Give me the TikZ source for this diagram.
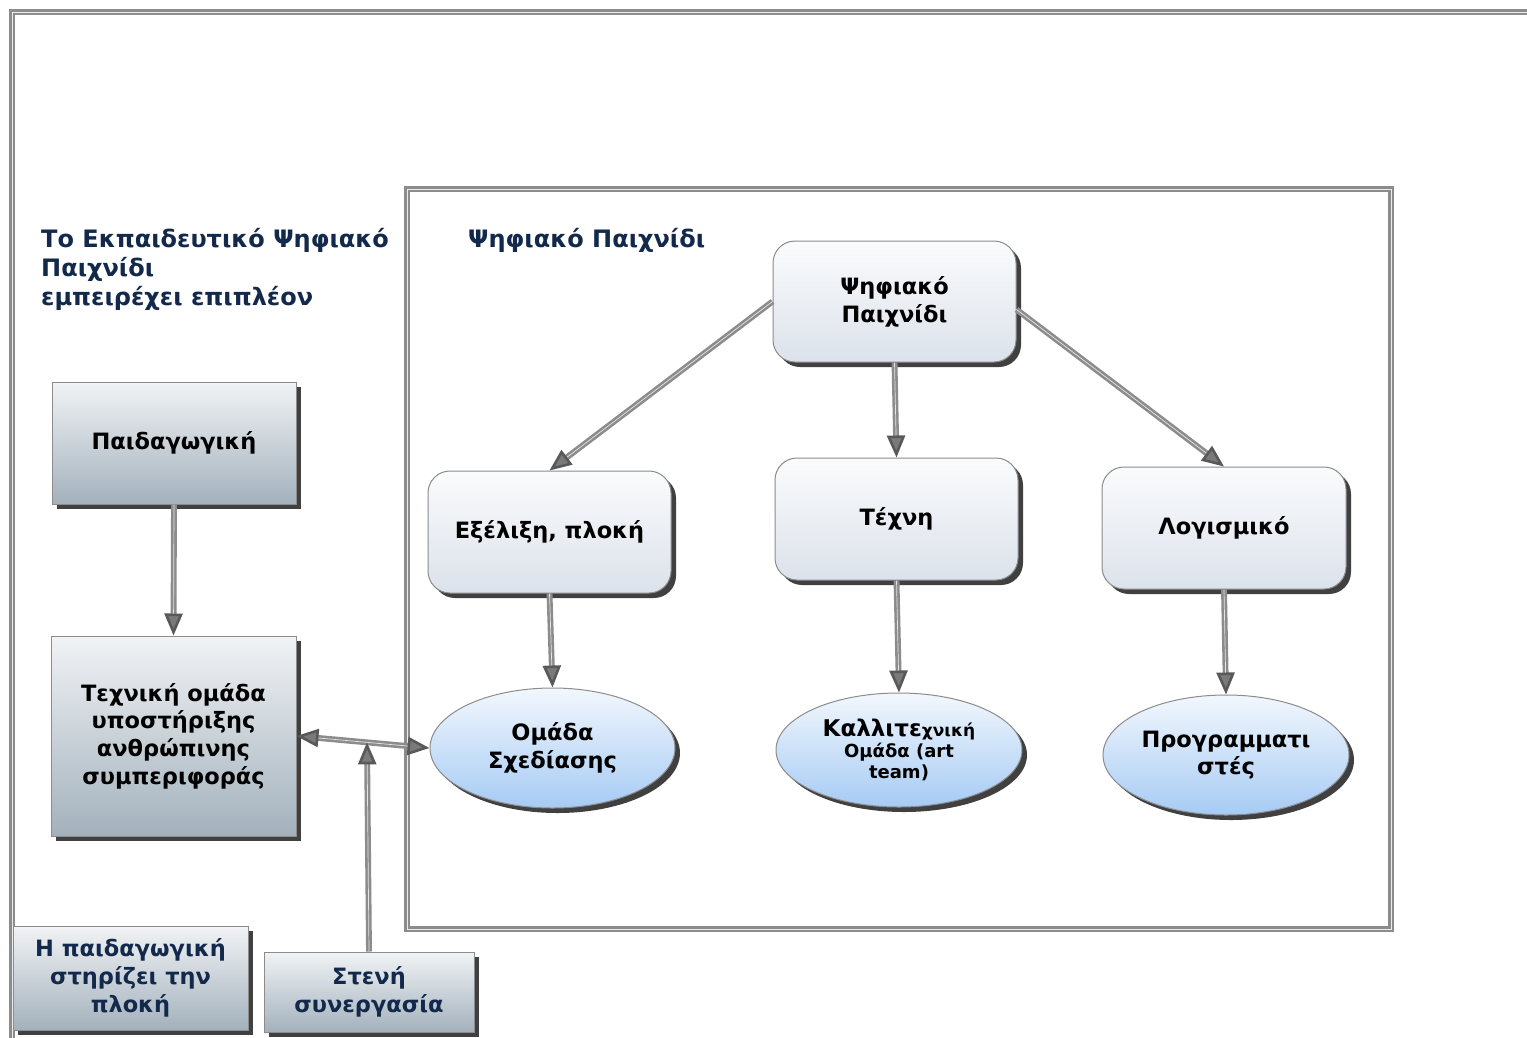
\documentclass[tikz,border=0pt]{standalone}
\usepackage{fontspec}
\setmainfont{DejaVu Sans}
\usetikzlibrary{arrows.meta,shapes.geometric,shadows,calc}
\definecolor{navy}{HTML}{13294B}
\definecolor{frameg}{HTML}{8C8C8C}
\definecolor{boxtop}{HTML}{F1F3F5}
\definecolor{boxbot}{HTML}{A3B1BC}
\definecolor{rtop}{HTML}{FAFBFC}
\definecolor{rbot}{HTML}{DCE2EB}
\definecolor{etop}{HTML}{F2F7FD}
\definecolor{ebot}{HTML}{A6CBF4}
\definecolor{tipg}{HTML}{7A7A7A}
\tikzset{
  lbl/.style={font=\bfseries\fontsize{22.5}{27.7}\selectfont, align=center},
  sqbox/.style={lbl, draw=frameg, line width=1pt, shading=axis, top color=boxtop, bottom color=boxbot,
    drop shadow={shadow xshift=5pt, shadow yshift=-5pt, fill=black, opacity=0.75}},
  rbox/.style={lbl, draw=frameg, line width=1pt, rounded corners=22pt, shading=axis, top color=rtop, bottom color=rbot,
    drop shadow={shadow xshift=5pt, shadow yshift=-5pt, fill=black, opacity=0.75}},
  ebox/.style={lbl, ellipse, draw=frameg, line width=1pt, shading=axis, top color=etop, bottom color=ebot,
    drop shadow={shadow xshift=5pt, shadow yshift=-5pt, fill=black, opacity=0.75}},
  tip/.tip={Triangle[length=22pt,width=18pt,fill=tipg,color=black!65]},
  conn/.style={draw=frameg, line width=2.6pt, double=white!80!gray, double distance=0.7pt, -tip},
  frameline/.style={draw=frameg, line width=3pt, double=white!85!gray, double distance=0.8pt},
}
\begin{document}
\begin{tikzpicture}[x=1pt,y=-1pt]
\useasboundingbox[fill=white] (0,0) rectangle (1527,1037);

% outer frame (open to the right and bottom)
\draw[frameline] (12,1040) -- (12,12) -- (1530,12);
% inner frame
\draw[frameline] (407,929) rectangle (1391,189);

% headings
\node[anchor=north west, font=\bfseries\fontsize{24}{29}\selectfont, text=navy, align=left, inner sep=0]
  (title) at (41,228) {Το Εκπαιδευτικό Ψηφιακό\\Παιχνίδι\\εμπειρέχει επιπλέον};
\node[anchor=north west, font=\bfseries\fontsize{24}{29}\selectfont, text=navy, inner sep=0]
  (gtitle) at (468,228) {Ψηφιακό Παιχνίδι};

% left column
\node[sqbox, minimum width=244pt, minimum height=122pt] (paid) at (174,443) {Παιδαγωγική};
\node[sqbox, minimum width=245pt, minimum height=200pt] (tech) at (173.5,736)
  {Τεχνική ομάδα\\υποστήριξης\\ανθρώπινης\\συμπεριφοράς};
\node[sqbox, text=navy, minimum width=235pt, minimum height=104pt] (note) at (130.5,978)
  {Η παιδαγωγική\\στηρίζει την\\πλοκή};
\node[sqbox, text=navy, minimum width=210pt, minimum height=80pt] (coop) at (369,992)
  {Στενή\\συνεργασία};

% game structure
\node[rbox, minimum width=243pt, minimum height=121pt] (game) at (894.5,301.5) {Ψηφιακό\\Παιχνίδι};
\node[rbox, minimum width=243pt, minimum height=122pt] (plot) at (549.5,532) {Εξέλιξη, πλοκή};
\node[rbox, minimum width=243pt, minimum height=122pt] (art) at (896.5,519) {Τέχνη};
\node[rbox, minimum width=244pt, minimum height=122pt] (soft) at (1224,528) {Λογισμικό};

\node[ebox, minimum width=245pt, minimum height=120pt, inner sep=0] (design) at (552.5,748) {Ομάδα\\Σχεδίασης};
\node[ebox, minimum width=246pt, minimum height=114pt, inner sep=0,
  font=\bfseries\fontsize{18}{21.5}\selectfont] (artteam) at (899,750)
  {\fontsize{23}{23}\selectfont Καλλιτε\fontsize{17}{17}\selectfont χνική\\[-1pt]
   \fontsize{18}{21.5}\selectfont Ομάδα (art\\team)};
\node[ebox, minimum width=246pt, minimum height=120pt, inner sep=0] (prog) at (1226,755) {Προγραμματι\\στές};

% connectors
\draw[conn] (game.west) -- (plot.north);
\draw[conn] (game.south) -- (art.north);
\draw[conn] ($(game.east)+(0,8)$) -- (soft.north);
\draw[conn] (plot.south) -- (design.north);
\draw[conn] (art.south) -- (artteam.north);
\draw[conn] (soft.south) -- (prog.north);
\draw[conn] (paid.south) -- (tech.north);
\draw[conn, tip-tip] (tech.east) -- (design.west);
\coordinate (meet) at ($(tech.east)!0.53!(design.west)$);
\draw[conn] (coop.north) -- (meet);
\end{tikzpicture}
\end{document}
